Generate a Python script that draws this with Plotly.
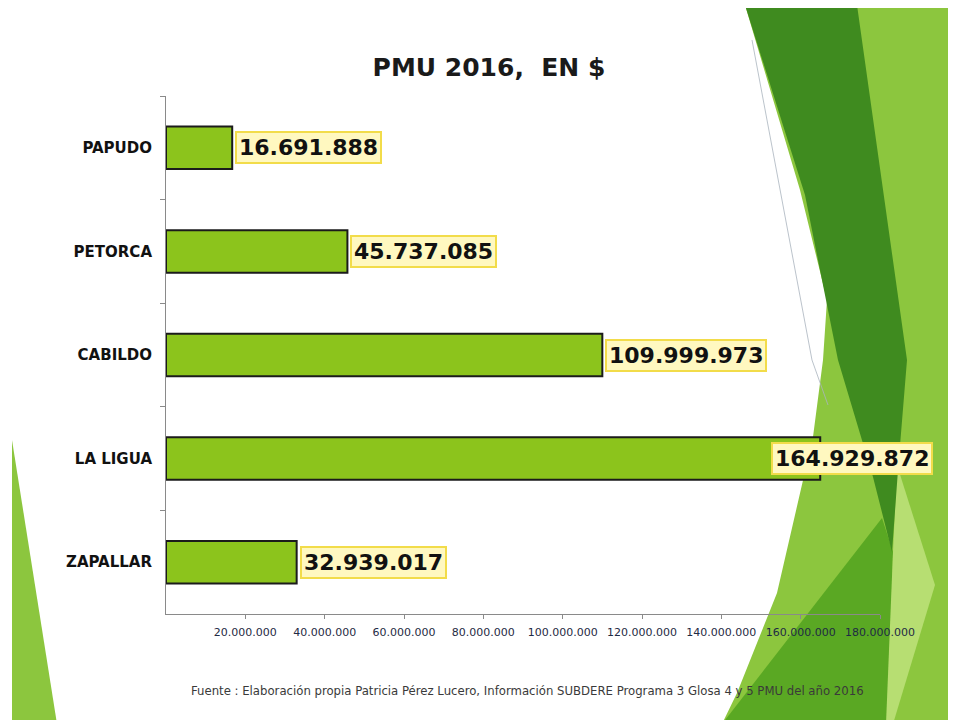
import plotly.graph_objects as go

# ---------------- data ----------------
comunas = ["PAPUDO", "PETORCA", "CABILDO", "LA LIGUA", "ZAPALLAR"]
montos = [16691888, 45737085, 109999973, 164929872, 32939017]
etiquetas = ["16.691.888", "45.737.085", "109.999.973", "164.929.872", "32.939.017"]
x_tick_vals = [20000000, 40000000, 60000000, 80000000, 100000000,
               120000000, 140000000, 160000000, 180000000]
titulo = "PMU 2016,\u00a0 EN $"
fuente = ("Fuente : Elaboración propia Patricia Pérez Lucero, Información SUBDERE "
          "Programa 3 Glosa 4 y 5 PMU del año 2016")

# ---------------- layout geometry ----------------
OFF = 8                      # page body margin
W, H = 956 - OFF, 720 - OFF
ML, MR, MT, MB = 166 - OFF, 76, 96 - OFF, 106
PW, PH = W - ML - MR, H - MT - MB


def px(x):  # x in reference-page pixels -> paper
    return (x - OFF - ML) / PW


def py(y):
    return (H - MB - (y - OFF)) / PH


def path(points):
    return "M " + " L ".join(f"{px(a):.5f},{py(b):.5f}" for a, b in points) + " Z"


LIME = "#8cc63e"
DARK = "#3f8b1f"
MED = "#5aa823"
PALE = "#b7de72"

shapes = []


def add_poly(points, color):
    shapes.append(dict(type="path", xref="paper", yref="paper", path=path(points),
                       fillcolor=color, line=dict(width=0), layer="below"))


# decorative slide background
add_poly([(745, 5), (960, 5), (960, 724), (722, 724), (737, 693), (777, 593),
          (813, 437), (823, 360), (827, 300), (800, 190)], LIME)
add_poly([(882, 518), (893, 552), (888, 724), (722, 724)], MED)
add_poly([(897, 465), (935, 585), (893, 724), (886, 724), (893, 552)], PALE)
add_poly([(745, 5), (857, 5), (907, 360), (898, 470), (892, 552), (873, 477),
          (838, 360), (805, 195)], DARK)
add_poly([(12, 440), (12, 724), (57, 724)], LIME)
shapes.append(dict(type="path", xref="paper", yref="paper",
                   path="M {:.5f},{:.5f} L {:.5f},{:.5f} L {:.5f},{:.5f}".format(
                       px(752), py(40), px(812), py(360), px(828), py(405)),
                   line=dict(color="rgba(170,180,190,0.8)", width=1), layer="below"))

fig = go.Figure()
fig.add_trace(go.Bar(
    y=comunas, x=montos, orientation="h",
    marker=dict(color="#8cc41c", line=dict(color="#1b1b1b", width=2)),
    hoverinfo="skip", showlegend=False,
))

xmax = 180000000
annotations = []
for c, v, t in zip(comunas, montos, etiquetas):
    near_edge = v > 0.85 * xmax
    annotations.append(dict(
        x=v, y=c, xref="x", yref="y", text=t, showarrow=False,
        xanchor="center" if near_edge else "left",
        xshift=32 if near_edge else 3,
        font=dict(family="DejaVu Sans", size=22, color="#111111", weight="bold"),
        bgcolor="#fff8c0", bordercolor="#f2dc4a", borderwidth=2, borderpad=2,
    ))

annotations.append(dict(
    x=px(527), y=py(690), xref="paper", yref="paper", text=fuente, showarrow=False,
    xanchor="center", yanchor="middle",
    font=dict(family="DejaVu Sans Condensed, DejaVu Sans", size=13, color="#3a3a3a"),
))

fig.update_layout(
    width=W, height=H,
    margin=dict(l=ML, r=MR, t=MT, b=MB, pad=0),
    paper_bgcolor="white", plot_bgcolor="rgba(0,0,0,0)",
    separators=",.",
    bargap=0.59,
    title=dict(text=titulo, x=(489 - OFF) / W, xref="container", y=1 - (67 - OFF) / H,
               yref="container", xanchor="center", yanchor="middle",
               font=dict(family="DejaVu Sans", size=25, color="#1a1a1a", weight="bold")),
    shapes=shapes,
    annotations=annotations,
    xaxis=dict(range=[0, xmax], tickvals=x_tick_vals, tickformat=",d",
               showgrid=False, zeroline=False, showline=True, linecolor="#8a8a8a",
               linewidth=1, ticks="outside", ticklen=4, tickcolor="#8a8a8a",
               ticklabelstandoff=4,
               tickfont=dict(family="DejaVu Sans", size=11, color="#1f2a44")),
    yaxis=dict(categoryorder="array", categoryarray=comunas, autorange="reversed",
               showgrid=False, zeroline=False, showline=True, linecolor="#8a8a8a",
               linewidth=1, ticks="outside", ticklen=5, tickcolor="#8a8a8a",
               tickson="boundaries", ticklabelstandoff=10,
               tickfont=dict(family="DejaVu Sans", size=15, color="#111111",
                             weight="bold")),
)

fig.write_html("out.html")
